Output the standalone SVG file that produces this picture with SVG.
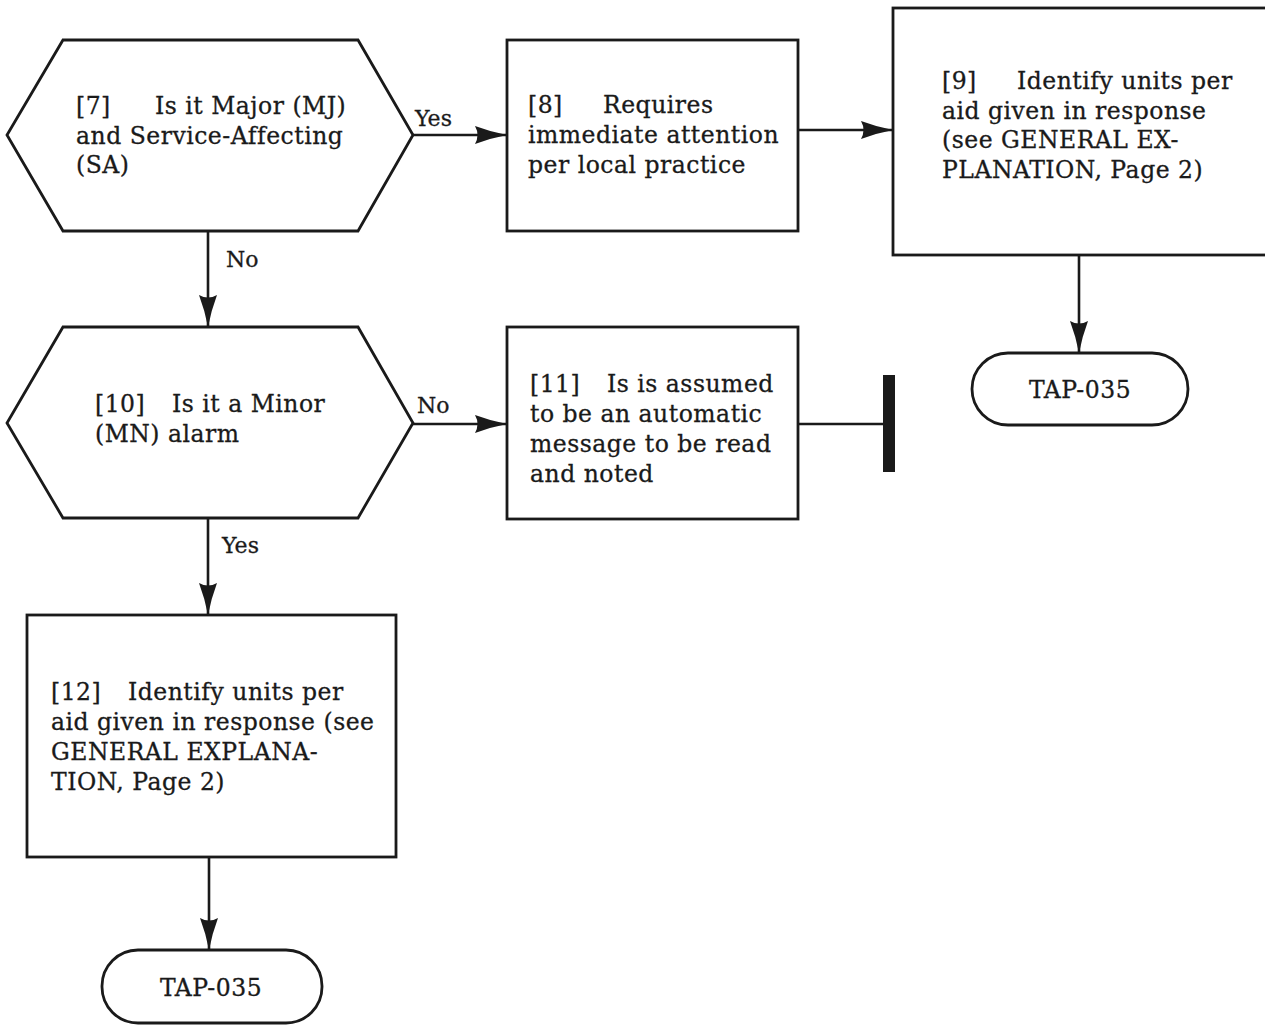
<svg xmlns="http://www.w3.org/2000/svg" width="1265" height="1025" viewBox="0 0 1265 1025">
  <style>
    .shape { fill: #ffffff; stroke: #1a1a1a; stroke-width: 2.8; stroke-linejoin: miter; }
    .conn { fill: none; stroke: #1a1a1a; stroke-width: 2.6; }
    .t { font-family: "DejaVu Serif", "Liberation Serif", serif; font-size: 23.5px; letter-spacing: 0.5px; fill: #1a1a1a; stroke: #1a1a1a; stroke-width: 0.3; }
    .lbl { font-family: "DejaVu Serif", "Liberation Serif", serif; font-size: 22px; fill: #1a1a1a; stroke: #1a1a1a; stroke-width: 0.3; }
  </style>
  <defs>
    <marker id="arrow" viewBox="0 0 32 18" refX="32" refY="9" markerWidth="32" markerHeight="18" markerUnits="userSpaceOnUse" orient="auto">
      <path d="M0,0 Q16,6 32,9 Q16,12 0,18 Q5,9 0,0 Z" fill="#1a1a1a"/>
    </marker>
  </defs>
  <rect width="1265" height="1025" fill="#ffffff"/>

  <!-- connectors -->
  <g id="connectors">
    <line class="conn" x1="413" y1="135" x2="507" y2="135" marker-end="url(#arrow)"/>
    <line class="conn" x1="798" y1="130" x2="893" y2="130" marker-end="url(#arrow)"/>
    <line class="conn" x1="1079" y1="255" x2="1079" y2="353" marker-end="url(#arrow)"/>
    <line class="conn" x1="208" y1="231" x2="208" y2="327" marker-end="url(#arrow)"/>
    <line class="conn" x1="413" y1="424" x2="507" y2="424" marker-end="url(#arrow)"/>
    <line class="conn" x1="798" y1="424" x2="884" y2="424"/>
    <rect x="883" y="375" width="12" height="97" fill="#1a1a1a"/>
    <line class="conn" x1="208" y1="518" x2="208" y2="615" marker-end="url(#arrow)"/>
    <line class="conn" x1="209" y1="857" x2="209" y2="950" marker-end="url(#arrow)"/>
    <text class="lbl" x="415" y="126">Yes</text>
    <text class="lbl" x="226" y="267">No</text>
    <text class="lbl" x="417" y="413">No</text>
    <text class="lbl" x="222" y="553">Yes</text>
  </g>

  <!-- decision 7 -->
  <g id="node7">
    <polygon class="shape" points="63,40 358,40 413,135 358,231 63,231 7,135"/>
    <text class="t" x="76" y="114">[7]</text>
    <text class="t" x="155" y="114">Is it Major (MJ)</text>
    <text class="t" x="76" y="144">and Service-Affecting</text>
    <text class="t" x="76" y="173">(SA)</text>
  </g>

  <!-- process 8 -->
  <g id="node8">
    <rect class="shape" x="507" y="40" width="291" height="191"/>
    <text class="t" x="528" y="113">[8]</text>
    <text class="t" x="603" y="113">Requires</text>
    <text class="t" x="528" y="143">immediate attention</text>
    <text class="t" x="528" y="173">per local practice</text>
  </g>

  <!-- process 9 -->
  <g id="node9">
    <rect class="shape" x="893" y="8" width="380" height="247"/>
    <text class="t" x="942" y="89">[9]</text>
    <text class="t" x="1017" y="89">Identify units per</text>
    <text class="t" x="942" y="119">aid given in response</text>
    <text class="t" x="942" y="148">(see GENERAL EX-</text>
    <text class="t" x="942" y="178">PLANATION, Page 2)</text>
  </g>

  <!-- terminator after 9 -->
  <g id="term9">
    <rect class="shape" x="972" y="353" width="216" height="72" rx="36" ry="36"/>
    <text class="t" x="1080" y="398" text-anchor="middle">TAP-035</text>
  </g>

  <!-- decision 10 -->
  <g id="node10">
    <polygon class="shape" points="63,327 358,327 413,423 358,518 63,518 7,423"/>
    <text class="t" x="95" y="412">[10]</text>
    <text class="t" x="172" y="412">Is it a Minor</text>
    <text class="t" x="95" y="442">(MN) alarm</text>
  </g>

  <!-- process 11 -->
  <g id="node11">
    <rect class="shape" x="507" y="327" width="291" height="192"/>
    <text class="t" x="530" y="392">[11]</text>
    <text class="t" x="607" y="392">Is is assumed</text>
    <text class="t" x="530" y="422">to be an automatic</text>
    <text class="t" x="530" y="452">message to be read</text>
    <text class="t" x="530" y="482">and noted</text>
  </g>

  <!-- process 12 -->
  <g id="node12">
    <rect class="shape" x="27" y="615" width="369" height="242"/>
    <text class="t" x="51" y="700">[12]</text>
    <text class="t" x="128" y="700">Identify units per</text>
    <text class="t" x="51" y="730">aid given in response (see</text>
    <text class="t" x="51" y="760">GENERAL EXPLANA-</text>
    <text class="t" x="51" y="790">TION, Page 2)</text>
  </g>

  <!-- terminator after 12 -->
  <g id="term12">
    <rect class="shape" x="102" y="950" width="220" height="73" rx="36" ry="36"/>
    <text class="t" x="211" y="996" text-anchor="middle">TAP-035</text>
  </g>
</svg>
